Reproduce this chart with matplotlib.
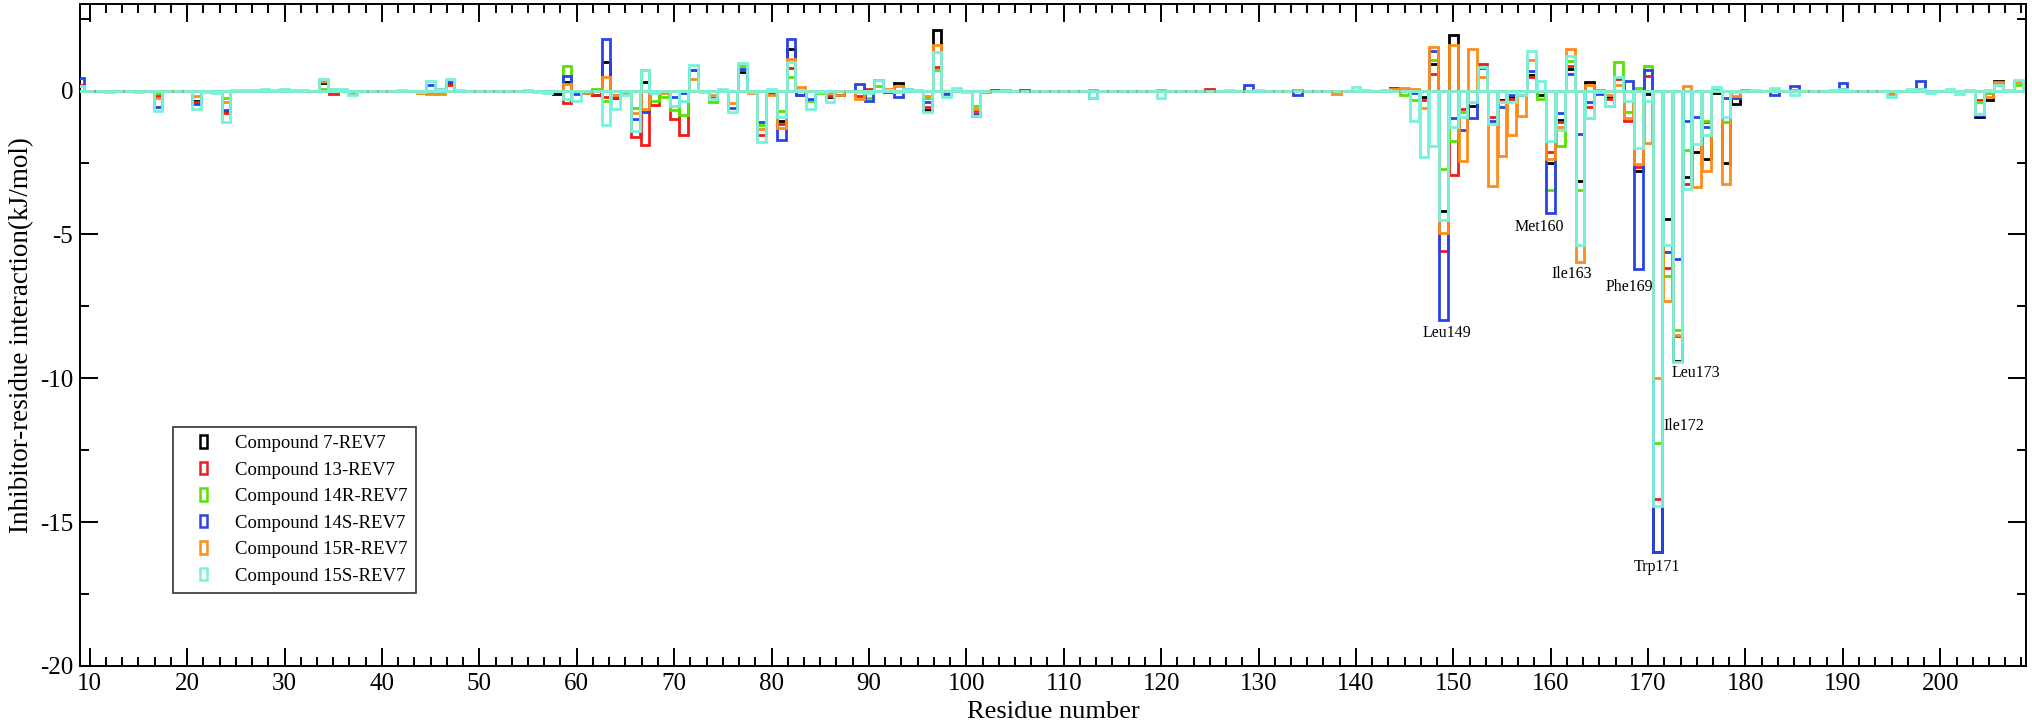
import matplotlib
matplotlib.use("Agg")
import matplotlib.pyplot as plt
from matplotlib.patches import Patch, Rectangle
from matplotlib.legend_handler import HandlerPatch
from matplotlib.ticker import MultipleLocator, AutoMinorLocator

plt.rcParams['font.family'] = ['Liberation Serif', 'DejaVu Serif']
plt.rcParams['axes.unicode_minus'] = False

# ---------------- data ----------------
residues = list(range(9, 209))

series_names = ["Compound 7-REV7", "Compound 13-REV7", "Compound 14R-REV7",
                "Compound 14S-REV7", "Compound 15R-REV7", "Compound 15S-REV7"]
series_colors = ["#000000", "#f01c1c", "#55e400", "#2a44e6", "#ff8c1a", "#78f2da"]

# interaction energies (kJ/mol) per residue; residues not listed are ~0
vals_7 = {21: -0.35, 24: -0.7, 34: 0.27, 47: 0.25, 58: -0.12, 59: 0.29, 62: -0.14,
          63: 0.98, 64: -0.25, 67: 0.31, 77: 0.64, 81: -1.06, 82: 1.45, 86: -0.23,
          87: -0.14, 93: 0.27, 96: -0.67, 97: 2.1, 101: -0.87, 104: 0.03, 144: 0.09,
          147: -0.23, 148: 0.93, 149: -4.19, 150: 1.93, 152: -0.54, 155: -0.32,
          156: -0.23, 157: -0.15, 158: 0.54, 159: -0.15, 160: -2.52, 161: -1.02,
          162: 0.75, 163: -3.15, 164: 0.29, 166: -0.23, 169: -2.78, 170: -0.12,
          171: -16.05, 172: -4.46, 173: -9.4, 174: -2.99, 175: -2.14, 176: -2.37,
          177: -0.09, 178: -2.52, 179: -0.46, 204: -0.93, 205: -0.32, 206: 0.35}

vals_13 = {9: 0.2, 17: -0.2, 21: -0.4, 24: -0.77, 34: 0.33, 35: -0.12, 47: 0.2,
           59: -0.43, 62: -0.14, 63: -0.23, 64: -0.25, 66: -1.6, 67: -1.88, 68: -0.5,
           70: -1.0, 71: -1.53, 72: 0.7, 74: -0.25, 77: 0.72, 79: -1.56, 80: -0.12,
           81: -1.16, 82: 0.8, 83: -0.14, 86: -0.18, 89: -0.2, 90: 0.05, 96: -0.58,
           97: 0.83, 98: -0.12, 101: -0.72, 125: 0.05, 144: 0.09, 147: -0.32,
           148: 0.58, 149: -5.58, 150: -2.95, 151: -0.64, 153: 0.93, 154: -0.9,
           155: -0.35, 156: -0.29, 158: 0.46, 160: -2.14, 161: -1.1, 162: 0.87,
           164: -0.58, 166: -0.29, 167: 0.4, 168: -1.04, 169: -2.65, 170: 0.52,
           171: -14.2, 172: -6.15, 173: -8.54, 174: -3.26, 176: -1.1, 190: 0.06,
           195: -0.09, 198: 0.06, 204: -0.32, 206: 0.2}

vals_14R = {17: -0.1, 24: -0.25, 34: 0.05, 35: 0.05, 44: -0.1, 45: -0.12, 46: -0.12,
            59: 0.87, 62: 0.05, 63: -0.35, 66: -0.6, 67: 0.72, 68: -0.35, 69: -0.23,
            70: -0.69, 71: -0.84, 74: -0.4, 77: 0.85, 79: -1.2, 81: -0.72, 82: 0.49,
            84: -0.35, 85: -0.1, 90: -0.25, 91: 0.15, 96: -0.27, 97: 0.72, 101: -0.52,
            134: 0.02, 145: -0.17, 146: -0.32, 148: 1.08, 149: -2.72, 150: -1.74,
            151: -0.75, 152: -0.4, 159: -0.29, 160: -3.47, 161: -1.91, 162: 1.02,
            163: -3.47, 164: -0.95, 166: -0.52, 167: 0.98, 168: -0.75, 169: 0.1,
            170: 0.87, 171: -12.25, 172: -6.46, 173: -8.33, 174: -2.08, 176: -1.04,
            177: 0.02, 178: -1.08, 180: 0.02, 204: -0.4, 205: -0.1, 208: 0.2}

vals_14S = {9: 0.43, 17: -0.58, 21: -0.45, 24: -0.66, 34: 0.3, 45: 0.2, 46: 0.05,
            47: 0.3, 59: 0.52, 60: -0.12, 61: -0.1, 63: 1.79, 64: -0.15, 66: -0.98,
            67: -0.75, 70: -0.21, 71: -0.1, 72: 0.72, 76: -0.6, 77: 0.75, 79: -1.1,
            80: -0.1, 81: -1.71, 82: 1.79, 83: -0.17, 84: -0.29, 89: 0.23, 90: -0.35,
            91: 0.37, 92: -0.06, 93: -0.21, 94: 0.05, 96: -0.4, 98: -0.1, 101: -0.8,
            103: 0.03, 106: 0.03, 113: -0.25, 129: 0.2, 134: -0.14, 146: -0.09,
            148: 1.39, 149: -7.99, 150: -0.95, 151: -1.37, 152: -0.95, 153: 0.79,
            154: -1.04, 155: -0.56, 156: -0.14, 158: 0.69, 160: -4.26, 161: -0.79,
            162: 0.58, 163: -1.5, 164: -0.4, 165: -0.12, 168: 0.32, 169: -6.19,
            170: 0.72, 171: -16.03, 172: -5.62, 173: -5.85, 174: -1.04, 175: -0.9,
            176: -1.27, 178: -0.25, 179: -0.27, 183: -0.14, 185: 0.17, 190: 0.25,
            198: 0.35, 204: -0.85}

vals_15R = {17: -0.27, 21: -0.2, 24: -0.4, 34: 0.35, 37: -0.08, 44: -0.1, 45: -0.1,
            46: -0.1, 59: 0.23, 61: -0.08, 63: 0.49, 64: -0.17, 65: -0.1, 66: -0.79,
            67: -0.64, 69: -0.09, 70: -0.52, 72: 0.4, 74: -0.17, 76: -0.44, 78: -0.09,
            79: -1.33, 80: -0.17, 81: -1.3, 82: 1.1, 83: 0.14, 86: -0.09, 87: -0.14,
            89: -0.29, 92: 0.06, 93: 0.17, 96: -0.2, 97: 1.6, 101: -0.64, 102: -0.06,
            113: 0.02, 120: 0.02, 138: -0.12, 144: 0.05, 145: 0.08, 146: 0.05,
            147: -0.6, 148: 1.53, 149: -4.95, 150: 1.6, 151: -2.43, 152: 1.45,
            153: 0.49, 154: -3.3, 155: -2.26, 156: -1.56, 157: -0.87, 158: 1.06,
            160: -2.37, 161: -1.25, 162: 1.45, 163: -5.96, 164: 0.2, 165: 0.02,
            166: -0.17, 167: 0.2, 168: -0.95, 169: -2.55, 170: -1.83, 171: -10.0,
            172: -7.3, 173: -8.5, 174: 0.17, 175: -3.36, 176: -2.78, 178: -3.24,
            179: -0.2, 183: 0.02, 185: 0.02, 195: -0.12, 204: -0.81, 205: -0.23,
            206: 0.31, 208: 0.3}

vals_15S = {9: 0.15, 11: -0.03, 12: -0.06, 13: -0.03, 15: -0.05, 17: -0.72, 18: -0.02,
            20: -0.03, 21: -0.64, 22: -0.04, 23: -0.08, 24: -1.1, 25: 0.03, 26: 0.03,
            27: 0.02, 28: 0.05, 29: 0.02, 30: 0.05, 31: 0.02, 32: 0.03, 34: 0.42,
            35: 0.05, 36: 0.05, 37: -0.15, 38: -0.02, 39: -0.02, 42: 0.02, 43: -0.03,
            44: -0.06, 45: 0.32, 46: 0.05, 47: 0.4, 48: 0.02, 55: 0.02, 56: -0.05,
            57: -0.1, 59: -0.3, 60: -0.35, 63: -1.19, 64: -0.64, 65: -0.17, 66: -1.39,
            67: 0.72, 68: -0.1, 70: -0.55, 71: -0.35, 72: 0.89, 73: -0.05, 74: -0.29,
            75: 0.05, 76: -0.75, 77: 0.95, 78: -0.05, 79: -1.79, 80: 0.05, 81: -0.93,
            82: 0.98, 83: 0.03, 84: -0.64, 85: -0.05, 86: -0.4, 87: -0.03, 89: -0.05,
            90: -0.1, 91: 0.37, 92: 0.03, 93: -0.05, 94: 0.05, 95: 0.02, 96: -0.75,
            97: 1.33, 98: -0.23, 99: 0.08, 100: -0.05, 101: -0.87, 102: -0.03,
            104: 0.02, 113: -0.25, 117: -0.03, 120: -0.25, 127: 0.03, 130: 0.02,
            140: 0.14, 141: 0.03, 143: 0.02, 146: -1.04, 147: -2.31, 148: -1.94,
            149: -4.51, 150: -1.25, 151: -0.9, 152: -0.4, 153: 0.83, 154: -1.16,
            155: -0.4, 156: -0.4, 157: -0.17, 158: 1.39, 159: 0.32, 160: -1.74,
            161: -1.37, 162: 1.22, 163: -5.35, 164: -0.95, 165: -0.05, 166: -0.52,
            167: 0.46, 168: -0.35, 169: -1.99, 170: -0.35, 171: -14.45, 172: -5.35,
            173: -9.43, 174: -3.41, 175: -1.85, 176: -1.56, 177: 0.12, 178: -0.93,
            179: -0.05, 181: 0.02, 183: 0.09, 185: -0.17, 186: -0.03, 189: 0.02,
            190: 0.05, 195: -0.23, 197: 0.05, 198: 0.05, 199: -0.08, 201: 0.05,
            202: -0.12, 203: 0.02, 204: -0.81, 205: 0.02, 206: 0.2, 207: 0.02, 208: 0.37}

series_values = [vals_7, vals_13, vals_14R, vals_14S, vals_15R, vals_15S]

annot_labels = ["Leu149", "Met160", "Ile163", "Phe169", "Trp171", "Ile172", "Leu173"]
annot_x = [149.3, 158.8, 162.2, 168.1, 170.9, 173.7, 174.9]
annot_y = [-8.43, -4.75, -6.37, -6.84, -16.56, -11.67, -9.82]

# ---------------- figure ----------------
fig = plt.figure(figsize=(20.32, 7.27), dpi=100)
ax = fig.add_axes([80 / 2032, 1 - 666 / 727, 1946 / 2032, 661.7 / 727])

for i, (name, color, d) in enumerate(zip(series_names, series_colors, series_values)):
    v = [d.get(r, 0.0) for r in residues]
    ax.bar(residues, v, width=0.9, fill=False, edgecolor=color,
           linewidth=2.0, zorder=2 + i)

for s, x, y in zip(annot_labels, annot_x, annot_y):
    ax.text(x, y, s, ha='center', va='center', fontsize=11.5, zorder=10)

ax.set_xlim(9, 208.8)
ax.set_ylim(-20, 3)
ax.xaxis.set_major_locator(MultipleLocator(10))
ax.xaxis.set_minor_locator(AutoMinorLocator(6))
ax.yaxis.set_major_locator(MultipleLocator(5))
ax.yaxis.set_minor_locator(AutoMinorLocator(2))
ax.tick_params(which='both', direction='in', top=True, right=True, width=1.4)
ax.tick_params(which='major', length=13, labelsize=18, pad=5)
ax.tick_params(which='minor', length=6.8)
for sp in ax.spines.values():
    sp.set_linewidth(1.4)

ax.set_xlabel("Residue number", fontsize=19, labelpad=4)
ax.set_ylabel("Inhibitor-residue interaction(kJ/mol)", fontsize=19.5, labelpad=4)


def narrow_rect(legend, orig_handle, xdescent, ydescent, width, height, fontsize):
    w = 5.4
    h = 9.0
    return Rectangle((-xdescent + width - w, -ydescent + (height - h) / 2), w, h)


handles = [Patch(facecolor='none', edgecolor=c, linewidth=1.8) for c in series_colors]
leg = ax.legend(handles, series_names, loc='upper left',
                bbox_to_anchor=(93.3 / 1946, (666 - 426.7) / 661.7),
                borderaxespad=0, fontsize=13.5, frameon=True, fancybox=False,
                borderpad=0.45, handlelength=1.36, handleheight=0.7,
                handletextpad=1.5, labelspacing=0.5,
                handler_map={Patch: HandlerPatch(patch_func=narrow_rect)})
leg.get_frame().set_edgecolor('black')
leg.get_frame().set_linewidth(1.2)
leg.set_zorder(20)

fig.savefig("out.png", dpi=100)
